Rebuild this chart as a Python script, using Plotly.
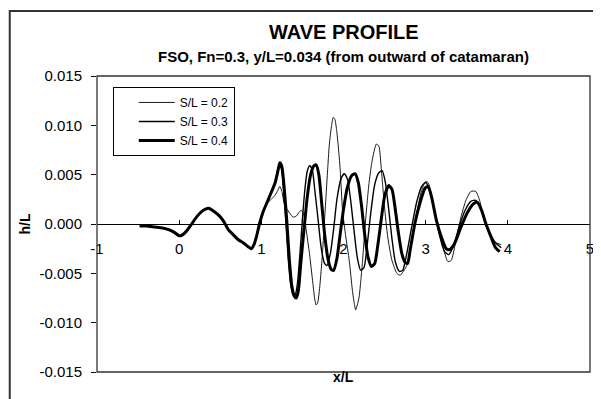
import plotly.graph_objects as go

# ---------------- data ----------------
series_names = ["S/L = 0.2", "S/L = 0.3", "S/L = 0.4"]

# part shared by all three series
x_common = [-0.48, -0.40, -0.30, -0.20, -0.12, -0.05, 0.00, 0.04, 0.10, 0.16, 0.22, 0.28,
            0.32, 0.36, 0.42, 0.48, 0.54, 0.60, 0.66, 0.72, 0.78, 0.84, 0.88, 0.91, 0.94,
            0.98, 1.02, 1.06]
y_common = [-0.0002, -0.0002, -0.0003, -0.0004, -0.0006, -0.0009, -0.0012, -0.0011, -0.0006,
            0.0001, 0.0008, 0.0013, 0.0015, 0.0016, 0.0013, 0.0009, 0.0003, -0.0006, -0.0011,
            -0.0016, -0.0019, -0.0023, -0.0025, -0.0021, -0.0013, 0.0001, 0.0012, 0.0020]

x_s02 = [1.12, 1.165, 1.20, 1.225, 1.25, 1.28, 1.305, 1.345, 1.386, 1.426, 1.46, 1.486, 1.51,
         1.526, 1.546, 1.586, 1.627, 1.65, 1.667, 1.685, 1.707, 1.727, 1.747, 1.767, 1.787,
         1.807, 1.827, 1.855, 1.875, 1.895, 1.915, 1.935, 1.96, 1.988, 2.028, 2.07, 2.108,
         2.13, 2.148, 2.168, 2.19, 2.21, 2.229, 2.249, 2.269, 2.29, 2.31, 2.34, 2.37, 2.40,
         2.43, 2.458, 2.478, 2.498, 2.538, 2.59, 2.65, 2.69, 2.72, 2.77, 2.83, 2.89, 2.95,
         3.00, 3.03, 3.09, 3.15, 3.21, 3.27, 3.31, 3.37, 3.43, 3.49, 3.55, 3.61, 3.66, 3.71,
         3.775, 3.835, 3.92]
y_s02 = [0.0025, 0.0029, 0.0034, 0.0038, 0.0033, 0.0020, 0.0016, 0.0011, 0.0007, 0.0008,
         0.0012, 0.0014, 0.0011, 0.0006, -0.0006, -0.0030, -0.0060, -0.0076, -0.0082, -0.0080,
         -0.0067, -0.0048, -0.0026, 0.0001, 0.0028, 0.0055, 0.0080, 0.0100, 0.0108, 0.0106,
         0.0096, 0.0080, 0.0055, 0.0014, -0.0013, -0.0037, -0.0067, -0.0080, -0.0087, -0.0082,
         -0.0074, -0.0058, -0.0040, -0.0018, 0.0004, 0.0024, 0.0041, 0.0060, 0.0073, 0.0081,
         0.0079, 0.0058, 0.0038, 0.0018, -0.0013, -0.0037, -0.0050, -0.0052, -0.0049, -0.0042,
         -0.0016, 0.0011, 0.0034, 0.0043, 0.0042, 0.0021, -0.0003, -0.0023, -0.0038, -0.0037,
         -0.0016, 0.0007, 0.0024, 0.0033, 0.0033, 0.0023, 0.0004, -0.0009, -0.0018, -0.0021]

x_s03 = [1.10, 1.165, 1.20, 1.22, 1.245, 1.27, 1.30, 1.33, 1.36, 1.39, 1.415, 1.44, 1.47, 1.50,
         1.53, 1.56, 1.59, 1.62, 1.65, 1.69, 1.73, 1.77, 1.80, 1.84, 1.88, 1.92, 1.97, 2.01,
         2.05, 2.09, 2.13, 2.17, 2.21, 2.25, 2.29, 2.33, 2.38, 2.43, 2.47, 2.51, 2.55, 2.59,
         2.63, 2.68, 2.72, 2.77, 2.83, 2.89, 2.95, 3.00, 3.05, 3.11, 3.17, 3.23, 3.28, 3.34,
         3.41, 3.48, 3.55, 3.61, 3.67, 3.72, 3.78, 3.85, 3.92]
y_s03 = [0.0028, 0.0042, 0.0055, 0.0060, 0.0056, 0.0035, 0.0000, -0.0038, -0.0063, -0.0072,
         -0.0071, -0.0060, -0.0030, 0.0005, 0.0035, 0.0054, 0.0059, 0.0055, 0.0035, 0.0005,
         -0.0025, -0.0040, -0.0042, -0.0030, -0.0005, 0.0025, 0.0046, 0.0051, 0.0045, 0.0022,
         -0.0008, -0.0035, -0.0047, -0.0044, -0.0020, 0.0010, 0.0040, 0.0052, 0.0054, 0.0042,
         0.0015, -0.0015, -0.0038, -0.0048, -0.0047, -0.0030, -0.0003, 0.0022, 0.0038, 0.0042,
         0.0034, 0.0012, -0.0012, -0.0028, -0.0031, -0.0022, -0.0002, 0.0014, 0.0023, 0.0024,
         0.0016, 0.0003, -0.0009, -0.0019, -0.0024]

x_s04 = [1.10, 1.165, 1.20, 1.225, 1.25, 1.28, 1.31, 1.34, 1.37, 1.40, 1.425, 1.45, 1.48, 1.52,
         1.56, 1.60, 1.64, 1.667, 1.70, 1.73, 1.77, 1.81, 1.85, 1.88, 1.92, 1.96, 2.00, 2.05,
         2.10, 2.14, 2.18, 2.22, 2.26, 2.30, 2.34, 2.38, 2.42, 2.46, 2.50, 2.55, 2.59, 2.63,
         2.67, 2.71, 2.75, 2.78, 2.81, 2.87, 2.93, 2.99, 3.03, 3.07, 3.13, 3.19, 3.25, 3.29,
         3.35, 3.43, 3.51, 3.59, 3.63, 3.68, 3.73, 3.79, 3.85, 3.90]
y_s04 = [0.0028, 0.0041, 0.0053, 0.0062, 0.0058, 0.0035, 0.0003, -0.0035, -0.0062, -0.0073,
         -0.0075, -0.0068, -0.0040, -0.0005, 0.0028, 0.0050, 0.0059, 0.0060, 0.0050, 0.0025,
         -0.0010, -0.0035, -0.0046, -0.0047, -0.0035, -0.0010, 0.0015, 0.0038, 0.0049, 0.0051,
         0.0042, 0.0018, -0.0012, -0.0034, -0.0043, -0.0040, -0.0020, 0.0005, 0.0028, 0.0039,
         0.0035, 0.0015, -0.0010, -0.0030, -0.0039, -0.0040, -0.0027, 0.0001, 0.0021, 0.0036,
         0.0038, 0.0028, 0.0004, -0.0013, -0.0025, -0.0026, -0.0020, -0.0003, 0.0012, 0.0021,
         0.0022, 0.0014, 0.0001, -0.0012, -0.0024, -0.0028]

x_tick_vals = [-1, 0, 1, 2, 3, 4, 5]
x_tick_text = ["-1", "0", "1", "2", "3", "4", "5"]
y_tick_vals = [0.015, 0.010, 0.005, 0.0, -0.005, -0.010, -0.015]
y_tick_text = ["0.015", "0.010", "0.005", "0.000", "-0.005", "-0.010", "-0.015"]

# ---------------- figure ----------------
FONT = "Arial, 'Liberation Sans', sans-serif"
series = [
    (series_names[0], x_common + x_s02, y_common + y_s02, 0.9),
    (series_names[1], x_common + x_s03, y_common + y_s03, 1.4),
    (series_names[2], x_common + x_s04, y_common + y_s04, 3.0),
]

fig = go.Figure()
for name, xs, ys, w in series:
    fig.add_trace(go.Scatter(x=xs, y=ys, name=name, mode="lines",
                             line=dict(color="black", width=w, shape="spline", smoothing=0.6)))

# the page has an 8px body margin, so the figure is sized to the remaining visible area
fig.update_layout(
    width=593, height=391,
    margin=dict(l=89, r=7, t=68, b=27),
    paper_bgcolor="white", plot_bgcolor="white",
    font=dict(family=FONT, size=14, color="black"),
    showlegend=True,
    legend=dict(x=0.032, y=0.963, xanchor="left", yanchor="top",
                bgcolor="white", bordercolor="black", borderwidth=1,
                font=dict(size=12), tracegroupgap=0, indentation=20, itemwidth=36),
    xaxis=dict(range=[-1, 5], tickvals=x_tick_vals, ticktext=x_tick_text,
               showgrid=False, zeroline=False, showline=True, linecolor="black", linewidth=1,
               anchor="free", position=0.5, ticks="inside", ticklen=4, tickcolor="black",
               ticklabelstandoff=11, tickfont=dict(size=15)),
    yaxis=dict(range=[-0.015, 0.015], tickvals=y_tick_vals, ticktext=y_tick_text,
               showgrid=False, zeroline=False, showline=False,
               ticks="outside", ticklen=5, tickcolor="black", ticklabelstandoff=6,
               tickfont=dict(size=15)),
    shapes=[
        dict(type="rect", xref="paper", yref="paper", x0=0, x1=1, y0=0, y1=1,
             line=dict(color="#333333", width=1.3), layer="above"),
        dict(type="rect", xref="paper", yref="paper", x0=-0.177, x1=1.01, y0=-0.12, y1=1.22,
             line=dict(color="#333333", width=2), layer="below"),
    ],
    annotations=[
        dict(text="<b>WAVE PROFILE</b>", xref="paper", yref="paper", x=0.5, y=1.1476,
             xanchor="center", yanchor="middle", showarrow=False, font=dict(size=20)),
        dict(text="<b>FSO, Fn=0.3, y/L=0.034 (from outward of catamaran)</b>", xref="paper",
             yref="paper", x=0.5, y=1.0666, xanchor="center", yanchor="middle",
             showarrow=False, font=dict(size=15)),
        dict(text="<b>x/L</b>", xref="paper", yref="paper", x=0.5, y=-0.018,
             xanchor="center", yanchor="middle", showarrow=False, font=dict(size=14)),
        dict(text="<b>h/L</b>", xref="paper", yref="paper", x=-0.147, y=0.5, textangle=-90,
             xanchor="center", yanchor="middle", showarrow=False, font=dict(size=14)),
    ],
)

fig.write_html("out.html")
